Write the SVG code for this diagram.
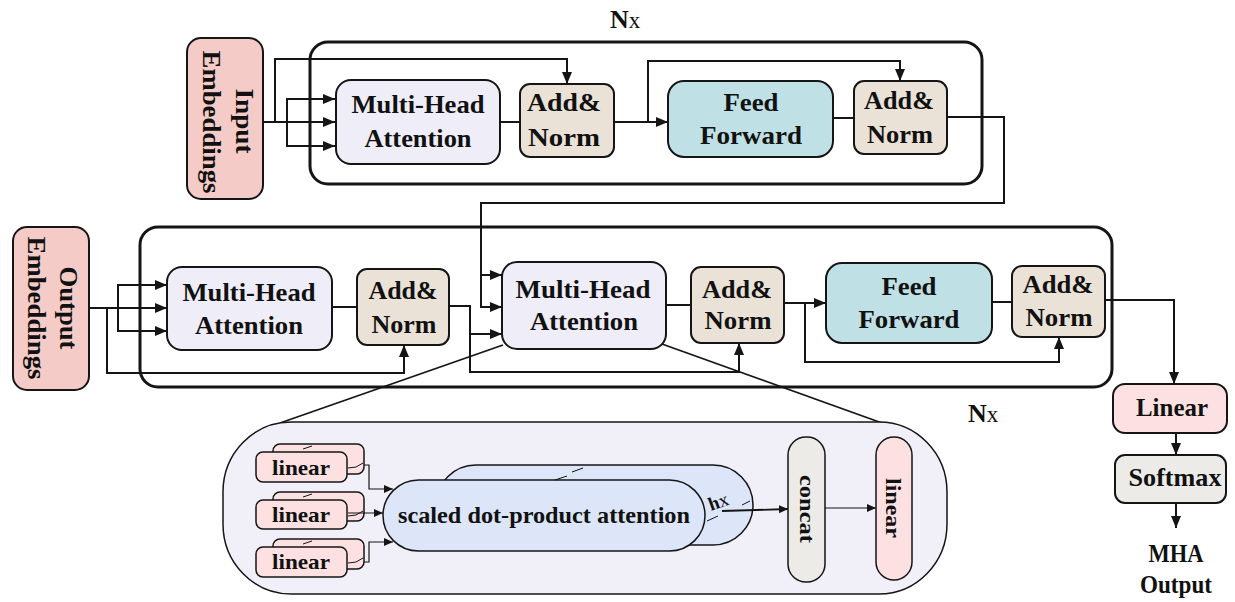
<svg xmlns="http://www.w3.org/2000/svg" width="1235" height="602" viewBox="0 0 1235 602">
  <defs>
    <style>
      .box { stroke: #151515; stroke-width: 2; }
      .thin { stroke: #151515; stroke-width: 1.5; }
      .lbl { font-family: "Liberation Serif", "Times New Roman", serif; font-weight: bold; font-size: 26px; fill: #111; text-anchor: middle; }
      .sm { font-size: 22px; }
      .wire { fill: none; stroke: #151515; stroke-width: 2; }
      .fine { fill: none; stroke: #151515; stroke-width: 1.2; }
      .frame { fill: none; stroke: #151515; stroke-width: 3; }
      .emb { fill: #f5cbc7; }
      .mha { fill: #efedf8; }
      .an { fill: #eae1d7; }
      .ff { fill: #bfe0e4; }
      .pink { fill: #fde1e2; }
      .grey { fill: #ecebe8; }
      .sdpa { fill: #dce6f8; }
    </style>
    <marker id="ah" markerUnits="userSpaceOnUse" markerWidth="12" markerHeight="10" refX="12" refY="5" orient="auto">
      <path d="M0,0 L12,5 L0,10 z" fill="#151515"/>
    </marker>
    <marker id="ahs" markerUnits="userSpaceOnUse" markerWidth="9" markerHeight="8" refX="9" refY="4" orient="auto">
      <path d="M0,0 L9,4 L0,8 z" fill="#151515"/>
    </marker>
  </defs>

  <rect width="1235" height="602" fill="#ffffff"/>

  <!-- repeated-layer frames -->
  <g id="frames">
    <rect class="frame" x="310" y="42" width="672" height="142" rx="18"/>
    <rect class="frame" x="140" y="227" width="972" height="160" rx="18"/>
    <text class="lbl" x="610" y="28" style="text-anchor:start;font-size:26px">N<tspan style="font-weight:normal;font-size:23px">x</tspan></text>
    <text class="lbl" x="968" y="422" style="text-anchor:start;font-size:26px">N<tspan style="font-weight:normal;font-size:23px">x</tspan></text>
  </g>

  <!-- connectors -->
  <g id="connectors">
    <!-- encoder -->
    <path class="wire" d="M263,122 H335" marker-end="url(#ah)"/>
    <path class="wire" d="M287,122 V99 H335" marker-end="url(#ah)"/>
    <path class="wire" d="M287,122 V146 H335" marker-end="url(#ah)"/>
    <path class="wire" d="M275,122 V59 H567 V84" marker-end="url(#ah)"/>
    <path class="wire" d="M500,122 H520"/>
    <path class="wire" d="M614,122 H668" marker-end="url(#ah)"/>
    <path class="wire" d="M648,122 V61 H900 V81" marker-end="url(#ah)"/>
    <path class="wire" d="M833,118 H854"/>
    <path class="wire" d="M947,117 H1004 V203 H481 V307 H502" marker-end="url(#ah)"/>
    <path class="wire" d="M481,275 H502" marker-end="url(#ah)"/>
    <!-- decoder -->
    <path class="wire" d="M89,308 H167" marker-end="url(#ah)"/>
    <path class="wire" d="M118,308 V285 H167" marker-end="url(#ah)"/>
    <path class="wire" d="M118,308 V331 H167" marker-end="url(#ah)"/>
    <path class="wire" d="M107,308 V373 H404 V345" marker-end="url(#ah)"/>
    <path class="wire" d="M332,307 H357"/>
    <path class="wire" d="M449,306 H470 V372 H739 V343" marker-end="url(#ah)"/>
    <path class="wire" d="M470,334 H502" marker-end="url(#ah)"/>
    <path class="wire" d="M666,305 H691"/>
    <path class="wire" d="M784,303 H826" marker-end="url(#ah)"/>
    <path class="wire" d="M805,303 V362 H1059 V337" marker-end="url(#ah)"/>
    <path class="wire" d="M992,302 H1012"/>
    <path class="wire" d="M1105,300 H1174 V384" marker-end="url(#ah)"/>
    <path class="wire" d="M1176,433 V455" marker-end="url(#ah)"/>
    <path class="wire" d="M1176,503 V528" marker-end="url(#ah)"/>
    <!-- zoom-out lines to the attention detail -->
    <path class="wire" style="stroke-width:1.8" d="M503,345 L280,423"/>
    <path class="wire" style="stroke-width:1.8" d="M662,344 L882,423"/>
  </g>

  <!-- encoder nodes -->
  <g id="input-embeddings">
    <rect class="box emb" x="187" y="38" width="76" height="161" rx="14"/>
    <text class="lbl" transform="translate(236,121) rotate(90)" textLength="65" lengthAdjust="spacingAndGlyphs">Input</text>
    <text class="lbl" transform="translate(203,122) rotate(90)" textLength="143" lengthAdjust="spacingAndGlyphs">Embeddings</text>
  </g>
  <g id="enc-mha">
    <rect class="box mha" x="336" y="80" width="164" height="84" rx="15"/>
    <text class="lbl" x="418" y="113" textLength="133" lengthAdjust="spacingAndGlyphs">Multi-Head</text>
    <text class="lbl" x="418" y="147" textLength="107" lengthAdjust="spacingAndGlyphs">Attention</text>
  </g>
  <g id="enc-addnorm-1">
    <rect class="box an" x="520" y="84" width="94" height="73" rx="10"/>
    <text class="lbl" x="564" y="111" textLength="74" lengthAdjust="spacingAndGlyphs">Add&amp;</text>
    <text class="lbl" x="564" y="146" textLength="72" lengthAdjust="spacingAndGlyphs">Norm</text>
  </g>
  <g id="enc-ff">
    <rect class="box ff" x="668" y="81" width="165" height="76" rx="16"/>
    <text class="lbl" x="751" y="111" textLength="55" lengthAdjust="spacingAndGlyphs">Feed</text>
    <text class="lbl" x="751" y="144" textLength="102" lengthAdjust="spacingAndGlyphs">Forward</text>
  </g>
  <g id="enc-addnorm-2">
    <rect class="box an" x="854" y="81" width="93" height="73" rx="10"/>
    <text class="lbl" x="899" y="109" textLength="70" lengthAdjust="spacingAndGlyphs">Add&amp;</text>
    <text class="lbl" x="900" y="143" textLength="66" lengthAdjust="spacingAndGlyphs">Norm</text>
  </g>

  <!-- decoder nodes -->
  <g id="output-embeddings">
    <rect class="box emb" x="13" y="227" width="76" height="163" rx="14"/>
    <text class="lbl" transform="translate(60,308) rotate(90)" textLength="83" lengthAdjust="spacingAndGlyphs">Output</text>
    <text class="lbl" transform="translate(28,308) rotate(90)" textLength="143" lengthAdjust="spacingAndGlyphs">Embeddings</text>
  </g>
  <g id="dec-mha-1">
    <rect class="box mha" x="167" y="267" width="165" height="83" rx="15"/>
    <text class="lbl" x="249" y="301" textLength="133" lengthAdjust="spacingAndGlyphs">Multi-Head</text>
    <text class="lbl" x="249" y="334" textLength="108" lengthAdjust="spacingAndGlyphs">Attention</text>
  </g>
  <g id="dec-addnorm-1">
    <rect class="box an" x="357" y="269" width="92" height="76" rx="10"/>
    <text class="lbl" x="403" y="299" textLength="69" lengthAdjust="spacingAndGlyphs">Add&amp;</text>
    <text class="lbl" x="404" y="333" textLength="65" lengthAdjust="spacingAndGlyphs">Norm</text>
  </g>
  <g id="dec-mha-2">
    <rect class="box mha" x="502" y="262" width="164" height="87" rx="15"/>
    <text class="lbl" x="583" y="298" textLength="135" lengthAdjust="spacingAndGlyphs">Multi-Head</text>
    <text class="lbl" x="584" y="330" textLength="108" lengthAdjust="spacingAndGlyphs">Attention</text>
  </g>
  <g id="dec-addnorm-2">
    <rect class="box an" x="691" y="267" width="93" height="76" rx="10"/>
    <text class="lbl" x="737" y="298" textLength="70" lengthAdjust="spacingAndGlyphs">Add&amp;</text>
    <text class="lbl" x="738" y="329" textLength="67" lengthAdjust="spacingAndGlyphs">Norm</text>
  </g>
  <g id="dec-ff">
    <rect class="box ff" x="826" y="263" width="166" height="80" rx="16"/>
    <text class="lbl" x="909" y="295" textLength="55" lengthAdjust="spacingAndGlyphs">Feed</text>
    <text class="lbl" x="909" y="328" textLength="101" lengthAdjust="spacingAndGlyphs">Forward</text>
  </g>
  <g id="dec-addnorm-3">
    <rect class="box an" x="1012" y="266" width="93" height="71" rx="10"/>
    <text class="lbl" x="1058" y="293" textLength="71" lengthAdjust="spacingAndGlyphs">Add&amp;</text>
    <text class="lbl" x="1059" y="326" textLength="67" lengthAdjust="spacingAndGlyphs">Norm</text>
  </g>

  <!-- output head -->
  <g id="out-linear">
    <rect class="box pink" x="1113" y="384" width="114" height="49" rx="12"/>
    <text class="lbl" x="1172" y="416" textLength="72" lengthAdjust="spacingAndGlyphs">Linear</text>
  </g>
  <g id="softmax">
    <rect class="box grey" x="1115" y="455" width="111" height="48" rx="10"/>
    <text class="lbl" x="1175" y="486" textLength="93" lengthAdjust="spacingAndGlyphs">Softmax</text>
  </g>
  <g id="mha-output">
    <text class="lbl" x="1176" y="562" textLength="55" lengthAdjust="spacingAndGlyphs">MHA</text>
    <text class="lbl" x="1176" y="593" textLength="72" lengthAdjust="spacingAndGlyphs">Output</text>
  </g>

  <!-- multi-head attention detail -->
  <g id="mha-detail">
    <rect class="thin" x="223" y="422" width="724" height="172" rx="68" ry="70" fill="#f1eff8"/>

    <g id="head-proj">
      <!-- stacked projection cards -->
      <rect class="thin pink" x="273" y="444" width="91" height="30" rx="7"/>
      <rect class="thin pink" x="256" y="452" width="91" height="30" rx="7"/>
      <rect class="thin pink" x="273" y="492" width="91" height="29" rx="7"/>
      <rect class="thin pink" x="256" y="500" width="91" height="29" rx="7"/>
      <rect class="thin pink" x="273" y="539" width="91" height="30" rx="7"/>
      <rect class="thin pink" x="256" y="547" width="91" height="30" rx="7"/>
      <g class="fine" style="stroke-width:1">
        <path d="M303,449 L312,446"/>
        <path d="M303,497 L312,494"/>
        <path d="M303,544 L312,541"/>
        <path d="M348,468 L356,467 L363,463"/>
        <path d="M348,516 L356,515 L363,511"/>
        <path d="M348,563 L356,562 L363,558"/>
      </g>
      <text class="lbl sm" x="301" y="475" textLength="58" lengthAdjust="spacingAndGlyphs">linear</text>
      <text class="lbl sm" x="301" y="522" textLength="58" lengthAdjust="spacingAndGlyphs">linear</text>
      <text class="lbl sm" x="301" y="569" textLength="58" lengthAdjust="spacingAndGlyphs">linear</text>
    </g>

    <path class="fine" d="M364,465 H369 V489 H393" marker-end="url(#ahs)"/>
    <path class="fine" d="M348,513 H383" marker-end="url(#ahs)"/>
    <path class="fine" d="M364,562 H369 V542 H393" marker-end="url(#ahs)"/>

    <g id="sdpa">
      <rect class="thin sdpa" x="436" y="465" width="317" height="80" rx="40"/>
      <rect class="thin sdpa" x="383" y="480" width="322" height="71" rx="35.5"/>
      <g class="fine" style="stroke-width:1">
        <path d="M555,480 L567,476"/>
        <path d="M572,472 L583,468"/>
        <path d="M707,521 L718,516"/>
        <path d="M742,505 L750,501"/>
      </g>
      <text class="lbl" style="font-size:23px" x="544" y="523" textLength="292" lengthAdjust="spacingAndGlyphs">scaled dot-product attention</text>
      <text class="lbl" style="font-size:19px;text-anchor:start" transform="translate(711,511) rotate(-20)">h<tspan style="font-weight:normal">x</tspan></text>
    </g>

    <path class="wire" style="stroke-width:1.8" d="M722,511 L788,509" marker-end="url(#ahs)"/>

    <g id="concat">
      <rect class="thin grey" x="788" y="437" width="37" height="145" rx="18"/>
      <text class="lbl sm" transform="translate(800,509) rotate(90)" textLength="68" lengthAdjust="spacingAndGlyphs">concat</text>
    </g>

    <path class="fine" d="M825,508 H876" marker-end="url(#ahs)"/>

    <g id="final-linear">
      <rect class="thin pink" x="876" y="437" width="36" height="143" rx="18"/>
      <text class="lbl sm" transform="translate(886,508) rotate(90)" textLength="60" lengthAdjust="spacingAndGlyphs">linear</text>
    </g>
  </g>
</svg>
